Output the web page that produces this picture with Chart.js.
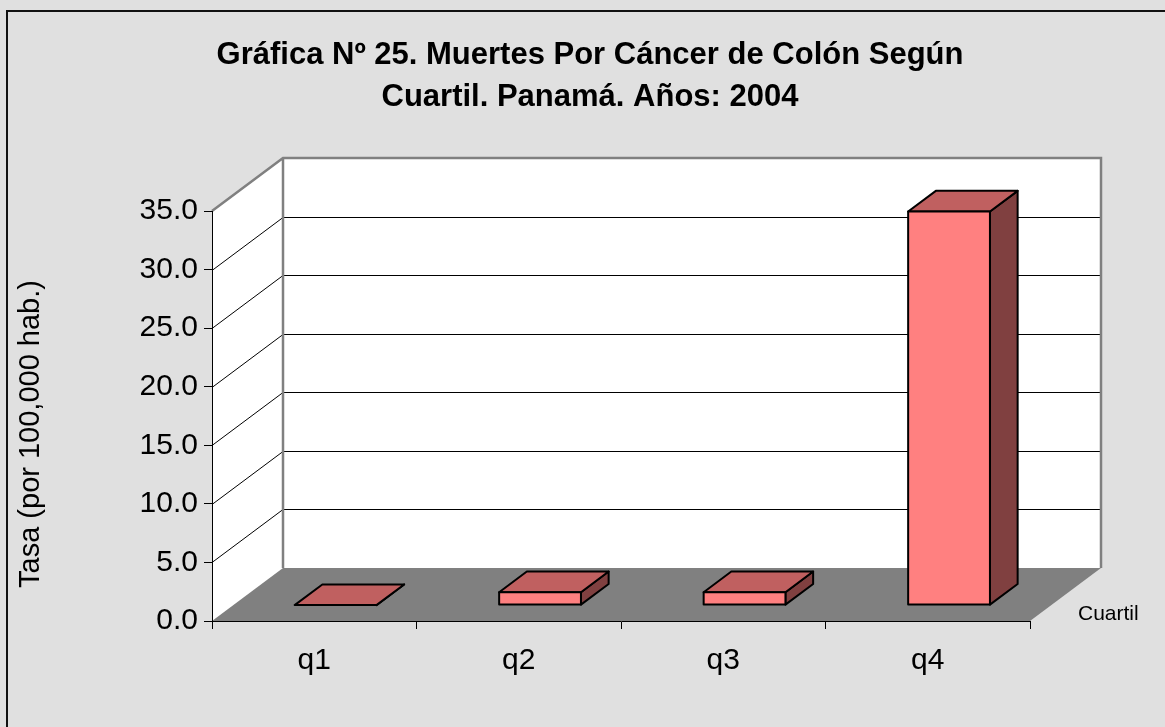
<!DOCTYPE html>
<html lang="es">
<head>
  <meta charset="UTF-8">
  <title>Gráfica Nº 25</title>
  <script src="https://cdn.jsdelivr.net/npm/chart.js"></script>
  <style>
    body { margin: 0; background: #e0e0e0; }
  </style>
</head>
<body>
  <canvas id="colonChart" width="1165" height="727"></canvas>
  <script>
    // Datos
    const categories = ['q1', 'q2', 'q3', 'q4'];
    const rates = [0.0, 1.1, 1.1, 33.6];
    const yMin = 0;
    const yMax = 35;
    const yStep = 5;
    const titleLines = ['Gráfica Nº 25. Muertes Por Cáncer de Colón Según', 'Cuartil. Panamá. Años: 2004'];
    const yTitle = 'Tasa (por 100,000 hab.)';
    const xTitle = 'Cuartil';

    const FONT = "Arial, 'Liberation Sans', sans-serif";
    const depth = { dx: 71, dy: -53 };   // profundidad de la caja 3D
    const barDepth = [0.3, 0.69];        // fracción de profundidad ocupada por las barras

    const box3d = {
      id: 'box3d',
      beforeDraw(chart) {
        const ctx = chart.ctx;
        const { left, right } = chart.chartArea;
        const y = chart.scales.y;
        const top = y.getPixelForValue(yMax);
        const bottom = y.getPixelForValue(yMin);
        const { dx, dy } = depth;

        ctx.save();
        ctx.fillStyle = '#e0e0e0';
        ctx.fillRect(0, 0, chart.width, chart.height);
        ctx.strokeStyle = '#111';
        ctx.lineWidth = 2;
        ctx.strokeRect(7, 11, chart.width + 20, chart.height + 20);

        // paredes
        ctx.fillStyle = '#ffffff';
        ctx.beginPath();
        ctx.moveTo(left, top);
        ctx.lineTo(left + dx, top + dy);
        ctx.lineTo(right + dx, top + dy);
        ctx.lineTo(right + dx, bottom + dy);
        ctx.lineTo(left, bottom);
        ctx.closePath();
        ctx.fill();

        // líneas de cuadrícula
        ctx.strokeStyle = '#000';
        ctx.lineWidth = 1;
        y.ticks.forEach(t => {
          if (t.value <= yMin || t.value >= yMax) return;
          const py = Math.round(y.getPixelForValue(t.value)) + 0.5;
          ctx.beginPath();
          ctx.moveTo(left, py);
          ctx.lineTo(left + dx, py + dy);
          ctx.lineTo(right + dx, py + dy);
          ctx.stroke();
        });

        // piso
        ctx.fillStyle = '#808080';
        ctx.beginPath();
        ctx.moveTo(left, bottom);
        ctx.lineTo(right, bottom);
        ctx.lineTo(right + dx, bottom + dy);
        ctx.lineTo(left + dx, bottom + dy);
        ctx.closePath();
        ctx.fill();

        // bordes de las paredes
        ctx.strokeStyle = '#808080';
        ctx.lineWidth = 2.5;
        ctx.beginPath();
        ctx.moveTo(left, top);
        ctx.lineTo(left + dx, top + dy);
        ctx.lineTo(right + dx, top + dy);
        ctx.lineTo(right + dx, bottom + dy);
        ctx.moveTo(left + dx, top + dy);
        ctx.lineTo(left + dx, bottom + dy);
        ctx.stroke();
        ctx.restore();
      },
      afterDatasetsDraw(chart) {
        const ctx = chart.ctx;
        const { dx, dy } = depth;
        const fx = barDepth[0] * dx, fy = barDepth[0] * dy;
        const bx = (barDepth[1] - barDepth[0]) * dx, by = (barDepth[1] - barDepth[0]) * dy;
        ctx.save();
        ctx.strokeStyle = '#000';
        ctx.lineWidth = 2;
        ctx.lineJoin = 'round';
        chart.getDatasetMeta(0).data.forEach(bar => {
          const xl = bar.x - bar.width / 2 + fx;
          const xr = bar.x + bar.width / 2 + fx;
          const yt = bar.y + fy;
          const yb = bar.base + fy;
          // cara lateral
          ctx.fillStyle = '#804040';
          ctx.beginPath();
          ctx.moveTo(xr, yt);
          ctx.lineTo(xr + bx, yt + by);
          ctx.lineTo(xr + bx, yb + by);
          ctx.lineTo(xr, yb);
          ctx.closePath();
          ctx.fill();
          ctx.stroke();
          // cara superior
          ctx.fillStyle = '#c06060';
          ctx.beginPath();
          ctx.moveTo(xl, yt);
          ctx.lineTo(xl + bx, yt + by);
          ctx.lineTo(xr + bx, yt + by);
          ctx.lineTo(xr, yt);
          ctx.closePath();
          ctx.fill();
          ctx.stroke();
          // cara frontal
          if (yb - yt > 0.5) {
            ctx.fillStyle = '#ff8080';
            ctx.fillRect(xl, yt, xr - xl, yb - yt);
            ctx.strokeRect(xl, yt, xr - xl, yb - yt);
          }
        });
        ctx.restore();
      },
      afterDraw(chart) {
        const ctx = chart.ctx;
        ctx.save();
        ctx.fillStyle = '#000';
        ctx.font = '29px ' + FONT;
        ctx.textAlign = 'center';
        ctx.textBaseline = 'alphabetic';
        ctx.translate(39, 434);
        ctx.rotate(-Math.PI / 2);
        ctx.fillText(yTitle, 0, 0);
        ctx.restore();

        ctx.save();
        ctx.fillStyle = '#000';
        ctx.font = '21px ' + FONT;
        ctx.textAlign = 'left';
        ctx.textBaseline = 'alphabetic';
        ctx.fillText(xTitle, 1078, 620);
        ctx.restore();
      }
    };

    new Chart(document.getElementById('colonChart'), {
      type: 'bar',
      data: {
        labels: categories,
        datasets: [{
          label: 'Tasa',
          data: rates,
          backgroundColor: 'rgba(0,0,0,0)',
          borderWidth: 0,
          barPercentage: 0.4,
          categoryPercentage: 1.0
        }]
      },
      options: {
        responsive: false,
        animation: false,
        layout: { padding: { left: 136, right: 121, top: 0, bottom: 0 } },
        plugins: {
          legend: { display: false },
          tooltip: { enabled: false },
          title: {
            display: true,
            text: titleLines,
            color: '#000',
            font: { family: FONT, size: 31, weight: 'bold', lineHeight: 1.355 },
            padding: { top: 34, bottom: 93 }
          }
        },
        scales: {
          x: {
            grid: { display: true, drawOnChartArea: false, drawTicks: true, tickLength: 8, color: '#000', offset: true },
            border: { display: true, color: '#000', width: 1 },
            ticks: { color: '#000', font: { family: FONT, size: 30 }, padding: 14 },
            afterFit(scale) { scale.height = 106; }
          },
          y: {
            min: yMin,
            max: yMax,
            grid: { display: true, drawOnChartArea: false, drawTicks: true, tickLength: 8, color: '#000' },
            border: { display: true, color: '#000', width: 1 },
            ticks: {
              stepSize: yStep,
              color: '#000',
              font: { family: FONT, size: 30 },
              padding: 6,
              callback: v => v.toFixed(1)
            },
            afterFit(scale) { scale.width = 76; }
          },
          // eje vacío a la derecha: deja sitio a la profundidad de la caja
          yRight: {
            position: 'right',
            display: true,
            grid: { display: false },
            border: { display: false },
            ticks: { display: false },
            afterFit(scale) { scale.width = 14; }
          }
        }
      },
      plugins: [box3d]
    });
  </script>
</body>
</html>
